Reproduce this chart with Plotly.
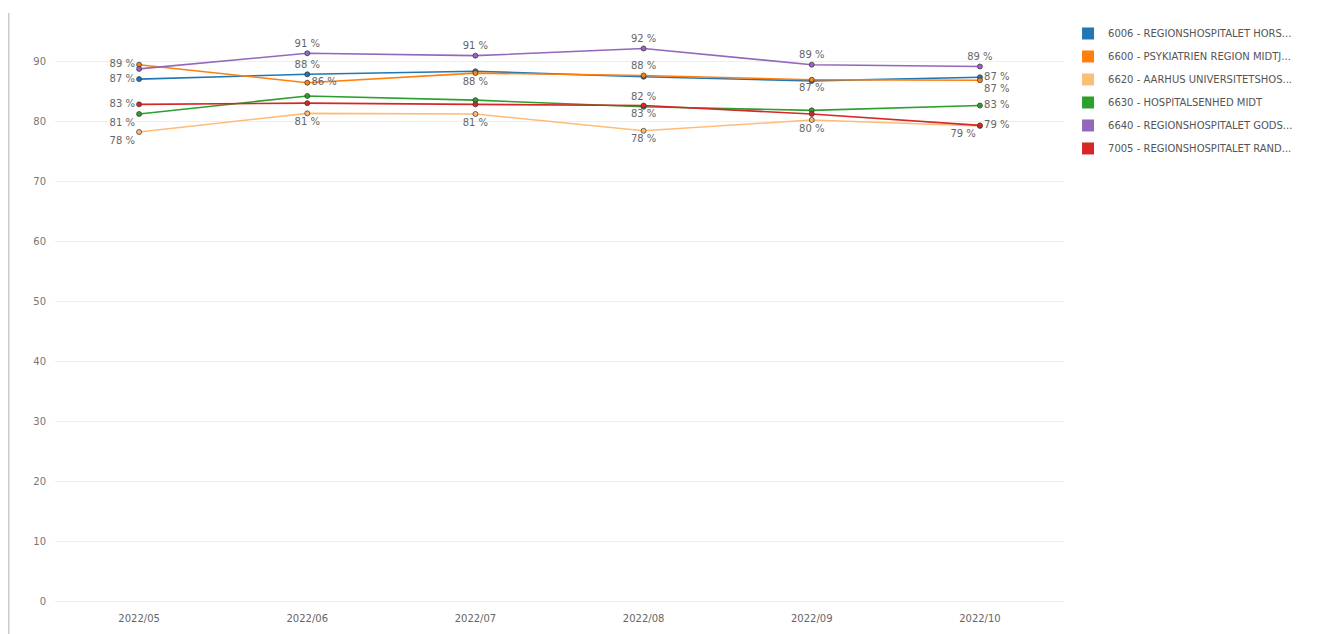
import plotly.graph_objects as go

months = ["2022/05", "2022/06", "2022/07", "2022/08", "2022/09", "2022/10"]

names = [
    "6006 - REGIONSHOSPITALET HORS...",
    "6600 - PSYKIATRIEN REGION MIDTJ...",
    "6620 - AARHUS UNIVERSITETSHOS...",
    "6630 - HOSPITALSENHED MIDT",
    "6640 - REGIONSHOSPITALET GODS...",
    "7005 - REGIONSHOSPITALET RAND...",
]

s6006 = [87.0, 87.8, 88.3, 87.4, 86.7, 87.3]
s6600 = [89.4, 86.4, 88.0, 87.6, 86.9, 86.8]
s6620 = [78.2, 81.3, 81.2, 78.4, 80.2, 79.2]
s6630 = [81.2, 84.2, 83.5, 82.4, 81.8, 82.6]
s6640 = [88.7, 91.3, 90.9, 92.1, 89.4, 89.1]
s7005 = [82.8, 83.0, 82.8, 82.6, 81.2, 79.3]

series = [s6006, s6600, s6620, s6630, s6640, s7005]
colors = ["#1f77b4", "#ff7f0e", "#ffbb78", "#2ca02c", "#9467bd", "#d62728"]

# label placement per point (None = no label shown)
label_pos = [
    ["middle left", "top center", None, None, None, "middle right"],
    ["middle left", "middle right", "bottom center", "top center", "bottom center", "bottom right"],
    ["bottom left", "bottom center", "bottom center", "bottom center", "bottom center", "middle right"],
    ["bottom left", None, None, "top center", None, "middle right"],
    [None, "top center", "top center", "top center", "top center", "top center"],
    ["middle left", None, None, "bottom center", None, "bottom left"],
]

fig = go.Figure()
for vals, pos, col in zip(series, label_pos, colors):
    texts = [f"{v:.0f} %" if p else "" for v, p in zip(vals, pos)]
    tpos = [p if p else "top center" for p in pos]
    fig.add_trace(go.Scatter(
        x=months, y=vals, mode="lines+markers+text",
        line=dict(color=col, width=1.6),
        marker=dict(color=col, size=5, line=dict(color="rgba(50,50,50,0.7)", width=1)),
        text=texts, textposition=tpos,
        textfont=dict(family="DejaVu Sans", size=10, color="#666666"),
        showlegend=False, hoverinfo="x+y",
    ))

for i, (name, col) in enumerate(zip(names, colors)):
    fig.add_trace(go.Scatter(
        x=[None], y=[None], mode="markers", name=name, legendgroup=f"g{i}",
        marker=dict(symbol="square", size=22, color=col),
        showlegend=True,
    ))

fig.update_layout(
    width=1328, height=634,
    margin=dict(l=47, r=272, t=5, b=31),
    paper_bgcolor="white", plot_bgcolor="white",
    font=dict(family="DejaVu Sans", size=10, color="#666666"),
    xaxis=dict(type="category", range=[-0.5, 5.5], showgrid=False, showline=False,
               zeroline=False, ticks="", automargin=False,
               tickfont=dict(size=10, color="#666666")),
    yaxis=dict(range=[-1.5, 98], tickvals=[0, 10, 20, 30, 40, 50, 60, 70, 80, 90],
               showgrid=True, gridcolor="#eeeeee", gridwidth=1, zeroline=False,
               showline=False, ticks="", ticklabelstandoff=8, automargin=False,
               tickfont=dict(size=10, color="#777777")),
    legend=dict(x=1.004, y=0.99, xanchor="left", yanchor="top",
                font=dict(family="DejaVu Sans", size=10, color="#555555"),
                itemsizing="constant", tracegroupgap=4, bgcolor="rgba(0,0,0,0)"),
    shapes=[dict(type="line", xref="paper", yref="paper",
                 x0=-0.046, x1=-0.046, y0=-0.04, y1=1.0,
                 line=dict(color="#cccccc", width=2))],
)

fig.write_html("out.html")
